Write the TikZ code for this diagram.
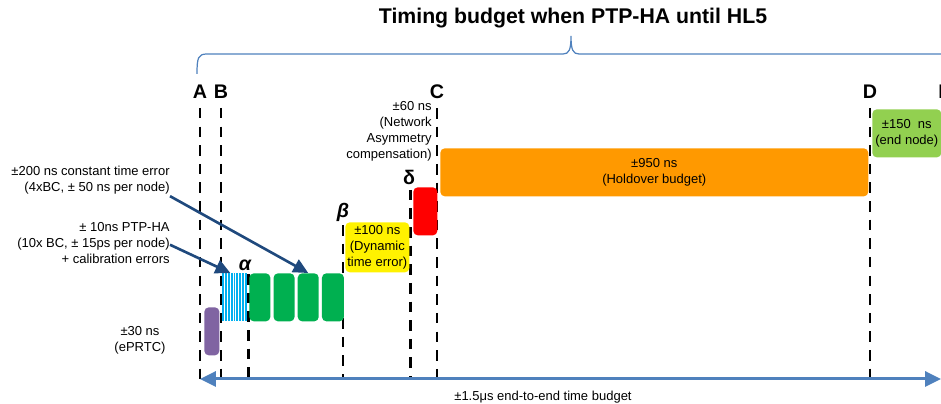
\documentclass[tikz,border=0pt]{standalone}
\usepackage{fontspec}
\setmainfont{Liberation Sans}
\usepackage{tikz}
\usetikzlibrary{arrows, arrows.meta, positioning}
\usepackage{xcolor}
\definecolor{braceblue}{HTML}{4F81BD}
\definecolor{arrowblue}{HTML}{1F497D}
\definecolor{prtcpurple}{HTML}{8064A2}
\definecolor{hablue}{HTML}{00B0F0}
\definecolor{bcgreen}{HTML}{00B050}
\definecolor{holdorange}{HTML}{FF9900}
\definecolor{endgreen}{HTML}{92D050}

\begin{document}
\begin{tikzpicture}[x=0.02cm, y=-0.02cm, >={Triangle[length=8.5pt, width=8pt]}]
    \tikzstyle{letter} = [font=\fontsize{11.2}{13}\selectfont\bfseries, inner sep=0]
    \tikzstyle{greek} = [font=\fontsize{11.2}{13}\selectfont\bfseries\itshape, inner sep=0]
    \tikzstyle{lbl} = [font=\fontsize{7.4}{9.1}\selectfont, inner sep=0, align=right]
    \tikzstyle{slot} = [rounded corners=2.5pt, inner sep=0, anchor=north west, minimum height=0.96cm, font=\fontsize{7.4}{9.1}\selectfont, align=center]
    \tikzstyle{guide} = [line width=1.5pt, dash pattern=on 6pt off 4.6pt]
    \clip (0,0) rectangle (941,404);
    % title and brace
    \node [font=\fontsize{12.1}{14}\selectfont\bfseries] at (573,18) (title) {Timing budget when PTP-HA until HL5};
    \draw[braceblue, line width=0.7pt] (197,74) .. controls (197,58) and (198,54) .. (207,54) -- (563,54)
        .. controls (569,54) and (571,50) .. (571,36) .. controls (571,50) and (573,54) .. (579,54) -- (941,54);
    % reference points
    \node [letter] at (200,92) (A) {A};
    \node [letter] at (221,92) (B) {B};
    \node [letter] at (437,92) (C) {C};
    \node [letter] at (870,92) (D) {D};
    \node [letter] at (945,92) (E) {E};
    \node [greek] at (245,265) (alpha) {α};
    \node [greek] at (343,212) (beta) {β};
    \node [letter] at (409,177) (delta) {δ};
    \coordinate (left) at (200,379);
    \coordinate (right) at (941,379);
    \draw[guide] ([yshift=-5pt]A.south) -- (A |- left);
    \draw[guide] ([yshift=-5pt]B.south) -- (B |- left);
    \draw[guide] ([yshift=-5pt]C.south) -- (C |- left);
    \draw[guide] ([yshift=-5pt]D.south) -- (D |- left);
    \draw[guide] ([xshift=2pt,yshift=-2pt]alpha.south) -- ([xshift=2pt]alpha |- left);
    \draw[guide] ([yshift=-2pt]beta.south) -- (beta |- left);
    \draw[guide] ([xshift=1pt,yshift=-3pt]delta.south) -- ([xshift=1pt]delta |- left);
    % budget boxes
    \node [slot, fill=prtcpurple, minimum width=0.3cm] at (204,307) (prtc) {};
    \node [slot, fill=hablue, rounded corners=0pt, minimum width=0.5cm] at (222,273) (hatch) {};
    \foreach \i in {1,...,8}
        \draw[white, line width=0.4pt] ([xshift=\i*0.055cm]hatch.north west) -- ([xshift=\i*0.055cm]hatch.south west);
    \node [slot, fill=bcgreen, minimum width=0.42cm] at (249,273) (bc1) {};
    \node [slot, fill=bcgreen, minimum width=0.42cm, right=0.05cm of bc1] (bc2) {};
    \node [slot, fill=bcgreen, minimum width=0.42cm, right=0.05cm of bc2] (bc3) {};
    \node [slot, fill=bcgreen, minimum width=0.44cm, right=0.05cm of bc3] (bc4) {};
    \node [slot, fill=yellow, minimum width=1.28cm, minimum height=1cm] at (345,222) (dyn) {±100 ns\\(Dynamic\\time error)};
    \node [slot, fill=red, minimum width=0.48cm] at (413,187) (asymbox) {};
    \node [slot, fill=holdorange, minimum width=8.56cm] at (440,148) (hold) {±950 ns\\(Holdover budget)};
    \node [slot, fill=endgreen, minimum width=1.38cm] at (872,109) (endnode) {±150\ \ ns\\(end node)};
    % side labels
    \node [lbl, anchor=east] at (170,180) (cte) {±200 ns constant time error\\(4xBC, ± 50 ns per node)};
    \node [lbl, anchor=east] at (170,243) (ha) {± 10ns PTP-HA\\(10x BC, ± 15ps per node)\\+ calibration errors};
    \node [lbl, align=center] at (140,340) (prtclbl) {±30 ns\\(ePRTC)};
    \node [lbl, anchor=east] at (432,131) (asym) {±60 ns\\(Network\\Asymmetry\\compensation)};
    \draw[->, arrowblue, line width=1.5pt] ([yshift=-1pt]cte.south east) to (bc3.north);
    \draw[->, arrowblue, line width=1.5pt] ([yshift=-1pt]ha.east) to ([xshift=-0.09cm]hatch.north);
    % end-to-end axis
    \draw[{Triangle[length=9pt, width=8.5pt]}-{Triangle[length=9pt, width=8.5pt]}, braceblue, line width=1.7pt] (left) -- (right);
    \node [lbl, align=center] at (543,397) (total) {±1.5μs end-to-end time budget};
\end{tikzpicture}
\end{document}
